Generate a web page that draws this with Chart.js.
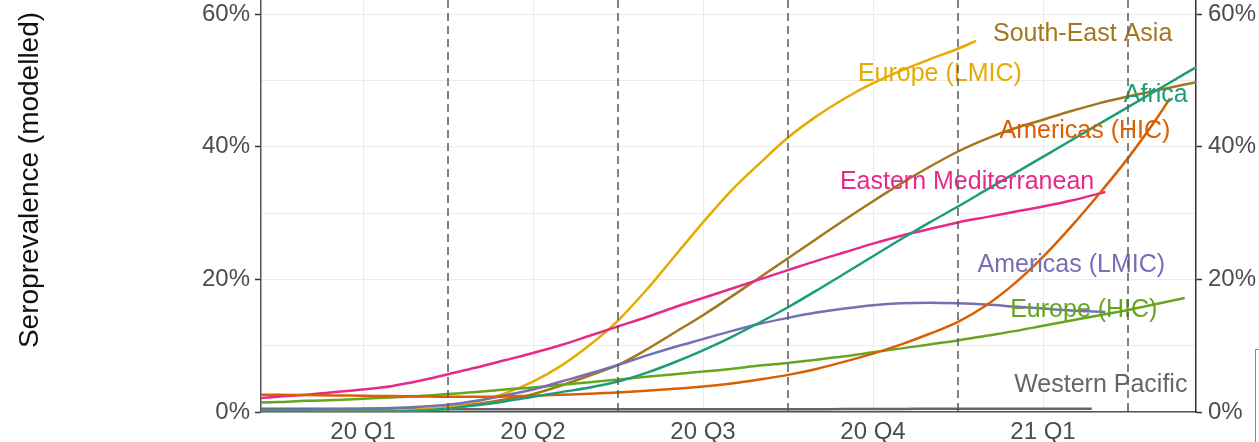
<!DOCTYPE html>
<html>
<head>
<meta charset="utf-8">
<script src="https://cdn.jsdelivr.net/npm/chart.js@4/dist/chart.umd.min.js"></script>
<style>
  html, body { margin: 0; padding: 0; background: #fff; overflow: hidden; width: 1259px; height: 442px; }
  #wrap { position: absolute; left: 0; top: -52px; width: 1259px; height: 494px; }
  #legendEdge { position: absolute; left: 1255px; top: 349px; width: 40px; height: 120px; border: 1px solid #8a8a8a; box-sizing: border-box; }
</style>
</head>
<body>
<div id="wrap"><canvas id="chart" width="1259" height="494"></canvas></div>
<div id="legendEdge"></div>
<script>
// Time axis in months from 1 Jan 2020; sample grid every half month.
const months = [-0.5, 0, 0.5, 1, 1.5, 2, 2.5, 3, 3.5, 4, 4.5, 5, 5.5, 6, 6.5, 7, 7.5, 8, 8.5,
                9, 9.5, 10, 10.5, 11, 11.5, 12, 12.5, 13, 13.5, 14, 14.5, 15, 15.5, 16, 16.5];

// Quarter labels (centred in each quarter) and quarter boundaries.
const quarterLabels  = ['20 Q1', '20 Q2', '20 Q3', '20 Q4', '21 Q1'];
const quarterCenters = [1.5, 4.5, 7.5, 10.5, 13.5];
const quarterBounds  = [3, 6, 9, 12, 15];
const pctTicks = [0, 20, 40, 60];

const regions = ['Africa', 'Americas (HIC)', 'Americas (LMIC)', 'Eastern Mediterranean',
                 'Europe (HIC)', 'Europe (LMIC)', 'South-East Asia', 'Western Pacific'];
const colors  = ['#1B9E77', '#D95F02', '#7570B3', '#E7298A', '#66A61E', '#E6AB02', '#A6761D', '#666666'];

// Modelled seroprevalence (%) on the half-month grid; the last value of each
// series belongs to that series' final month (endMonths).
const africa = [0.05, 0.05, 0.05, 0.05, 0.06, 0.08, 0.2, 0.5, 1.0, 1.6, 2.3, 3.0, 3.7, 4.6, 5.9, 7.5, 9.3,
                11.3, 13.5, 15.8, 18.3, 20.9, 23.5, 26.1, 28.6, 31.0, 33.5, 36.0, 38.5, 41.0, 43.5, 46.0,
                48.5, 51.0, 53.5];
const americasHic = [2.6, 2.6, 2.55, 2.5, 2.45, 2.4, 2.35, 2.3, 2.3, 2.35, 2.45, 2.6, 2.75, 2.95, 3.2, 3.5,
                     3.85, 4.3, 4.9, 5.6, 6.5, 7.6, 8.8, 10.2, 11.8, 13.6, 16.1, 19.4, 23.4, 28.0, 33.0,
                     38.3, 44.2, 47.3];
const americasLmic = [0.3, 0.3, 0.35, 0.4, 0.5, 0.6, 0.8, 1.1, 1.7, 2.5, 3.4, 4.6, 5.8, 7.1, 8.5, 9.8, 11.0,
                      12.2, 13.3, 14.2, 15.0, 15.6, 16.1, 16.4, 16.5, 16.4, 16.2, 15.9, 15.6, 15.3, 15.1];
const easternMed = [2.0, 2.3, 2.6, 3.0, 3.4, 3.9, 4.7, 5.7, 6.7, 7.8, 8.9, 10.1, 11.5, 12.9, 14.3, 15.8, 17.2,
                    18.6, 20.0, 21.4, 22.8, 24.1, 25.4, 26.6, 27.6, 28.6, 29.4, 30.2, 31.0, 31.9, 33.2];
const europeHic = [1.4, 1.5, 1.7, 1.8, 2.0, 2.2, 2.4, 2.7, 3.0, 3.4, 3.7, 4.1, 4.5, 4.9, 5.3, 5.7, 6.1, 6.5,
                   7.0, 7.4, 7.9, 8.4, 9.0, 9.6, 10.2, 10.8, 11.5, 12.2, 13.0, 13.8, 14.6, 15.4, 16.3, 17.2];
const europeLmic = [0.1, 0.1, 0.1, 0.1, 0.15, 0.2, 0.4, 0.8, 1.6, 2.8, 4.6, 7.0, 10.1, 13.8, 18.4, 23.5, 28.6,
                    33.4, 37.5, 41.4, 44.6, 47.3, 49.6, 51.5, 53.2, 54.8, 56.0];
const southEastAsia = [0.1, 0.1, 0.1, 0.1, 0.1, 0.15, 0.3, 0.7, 1.2, 1.9, 2.7, 4.0, 5.5, 7.1, 9.4, 12.0, 14.6,
                       17.4, 20.3, 23.2, 26.1, 29.0, 31.8, 34.5, 37.0, 39.3, 41.2, 42.8, 44.1, 45.4, 46.6,
                       47.6, 48.5, 49.4, 50.3];
const westernPacific = [0.5, 0.5, 0.5, 0.5, 0.5, 0.45, 0.45, 0.4, 0.4, 0.4, 0.4, 0.4, 0.4, 0.4, 0.4, 0.4, 0.4,
                        0.4, 0.4, 0.4, 0.4, 0.45, 0.45, 0.45, 0.5, 0.5, 0.5, 0.5, 0.5, 0.5, 0.5];

const seriesValues = [africa, americasHic, americasLmic, easternMed, europeHic, europeLmic, southEastAsia, westernPacific];
const endMonths    = [16.5, 15.74, 14.6, 14.6, 16.0, 12.32, 16.5, 14.36];

// Where each region's name is written (month, %).
const labelSpots = [
  { series: 6, month: 14.2,  pct: 57.0 },
  { series: 5, month: 11.68, pct: 50.9 },
  { series: 0, month: 15.49, pct: 47.8 },
  { series: 1, month: 14.24, pct: 42.4 },
  { series: 3, month: 12.16, pct: 34.7 },
  { series: 2, month: 14.0,  pct: 22.2 },
  { series: 4, month: 14.22, pct: 15.4 },
  { series: 7, month: 14.52, pct: 4.1 }
];

const FONT = '"Liberation Sans", Arial, Helvetica, sans-serif';

function toPoints(values, endMonth) {
  return values.map((v, i) => ({ x: i < values.length - 1 ? months[i] : endMonth, y: v }));
}

const datasets = regions.map((name, k) => ({
  label: name,
  data: toPoints(seriesValues[k], endMonths[k]),
  borderColor: colors[k],
  backgroundColor: colors[k],
  borderWidth: 2.5,
  pointRadius: 0,
  fill: false,
  cubicInterpolationMode: 'monotone'
}));

// Region names, then dashed quarter boundaries over everything.
const overlay = {
  id: 'overlay',
  afterDatasetsDraw(chart) {
    const { ctx, chartArea, scales } = chart;
    const x = scales.x, y = scales.y;
    ctx.save();
    ctx.font = '25px ' + FONT;
    ctx.textAlign = 'center';
    ctx.textBaseline = 'middle';
    labelSpots.forEach(s => {
      ctx.fillStyle = colors[s.series];
      ctx.fillText(regions[s.series], x.getPixelForValue(s.month), y.getPixelForValue(s.pct));
    });
    ctx.strokeStyle = '#5a5a5a';
    ctx.lineWidth = 1.5;
    ctx.setLineDash([8, 5]);
    quarterBounds.forEach(b => {
      const px = x.getPixelForValue(b);
      ctx.beginPath();
      ctx.moveTo(px, chartArea.top);
      ctx.lineTo(px, chartArea.bottom);
      ctx.stroke();
    });
    ctx.restore();
  }
};

const isMajor = v => v % 20 === 0 && v <= 60;

new Chart(document.getElementById('chart'), {
  type: 'line',
  data: { datasets },
  plugins: [overlay],
  options: {
    responsive: false,
    animation: false,
    events: [],
    layout: { padding: 0 },
    plugins: { legend: { display: false }, tooltip: { enabled: false } },
    scales: {
      x: {
        type: 'linear',
        min: -0.3,
        max: 16.2,
        afterBuildTicks: s => { s.ticks = quarterCenters.map(v => ({ value: v })); },
        afterFit: s => { s.height = 30; s.paddingLeft = 0; s.paddingRight = 0; },
        ticks: {
          autoSkip: false, maxRotation: 0, padding: 6,
          color: '#4d4d4d', font: { family: FONT, size: 24 },
          callback: (v, i) => quarterLabels[i]
        },
        grid: { color: '#ebebeb', lineWidth: 1, drawTicks: false },
        border: { display: true, color: '#555', width: 1.5 }
      },
      y: {
        position: 'left',
        min: 0,
        max: 70,
        afterFit: s => { s.width = 261; s.paddingTop = 0; s.paddingBottom = 0; },
        ticks: {
          stepSize: 10, padding: 5,
          color: '#4d4d4d', font: { family: FONT, size: 24 },
          callback: v => isMajor(v) ? v + '%' : ''
        },
        grid: {
          color: '#ebebeb', lineWidth: 1, tickLength: 6, tickWidth: 1.5,
          tickColor: c => (c.tick && isMajor(c.tick.value)) ? '#333' : 'rgba(0,0,0,0)'
        },
        border: { display: true, color: '#555', width: 1.5 },
        title: {
          display: true, text: 'Seroprevalence (modelled)', color: '#111',
          font: { family: FONT, size: 28 }, padding: { top: 13, bottom: 0 }
        }
      },
      y2: {
        position: 'right',
        min: 0,
        max: 70,
        afterBuildTicks: s => { s.ticks = pctTicks.map(v => ({ value: v })); },
        afterFit: s => { s.width = 63; s.paddingTop = 0; s.paddingBottom = 0; },
        ticks: {
          padding: 6, color: '#4d4d4d', font: { family: FONT, size: 24 },
          callback: v => v + '%'
        },
        grid: { drawOnChartArea: false, tickLength: 6, tickWidth: 1.5, tickColor: '#333' },
        border: { display: true, color: '#333', width: 1.5 }
      }
    }
  }
});
</script>
</body>
</html>
